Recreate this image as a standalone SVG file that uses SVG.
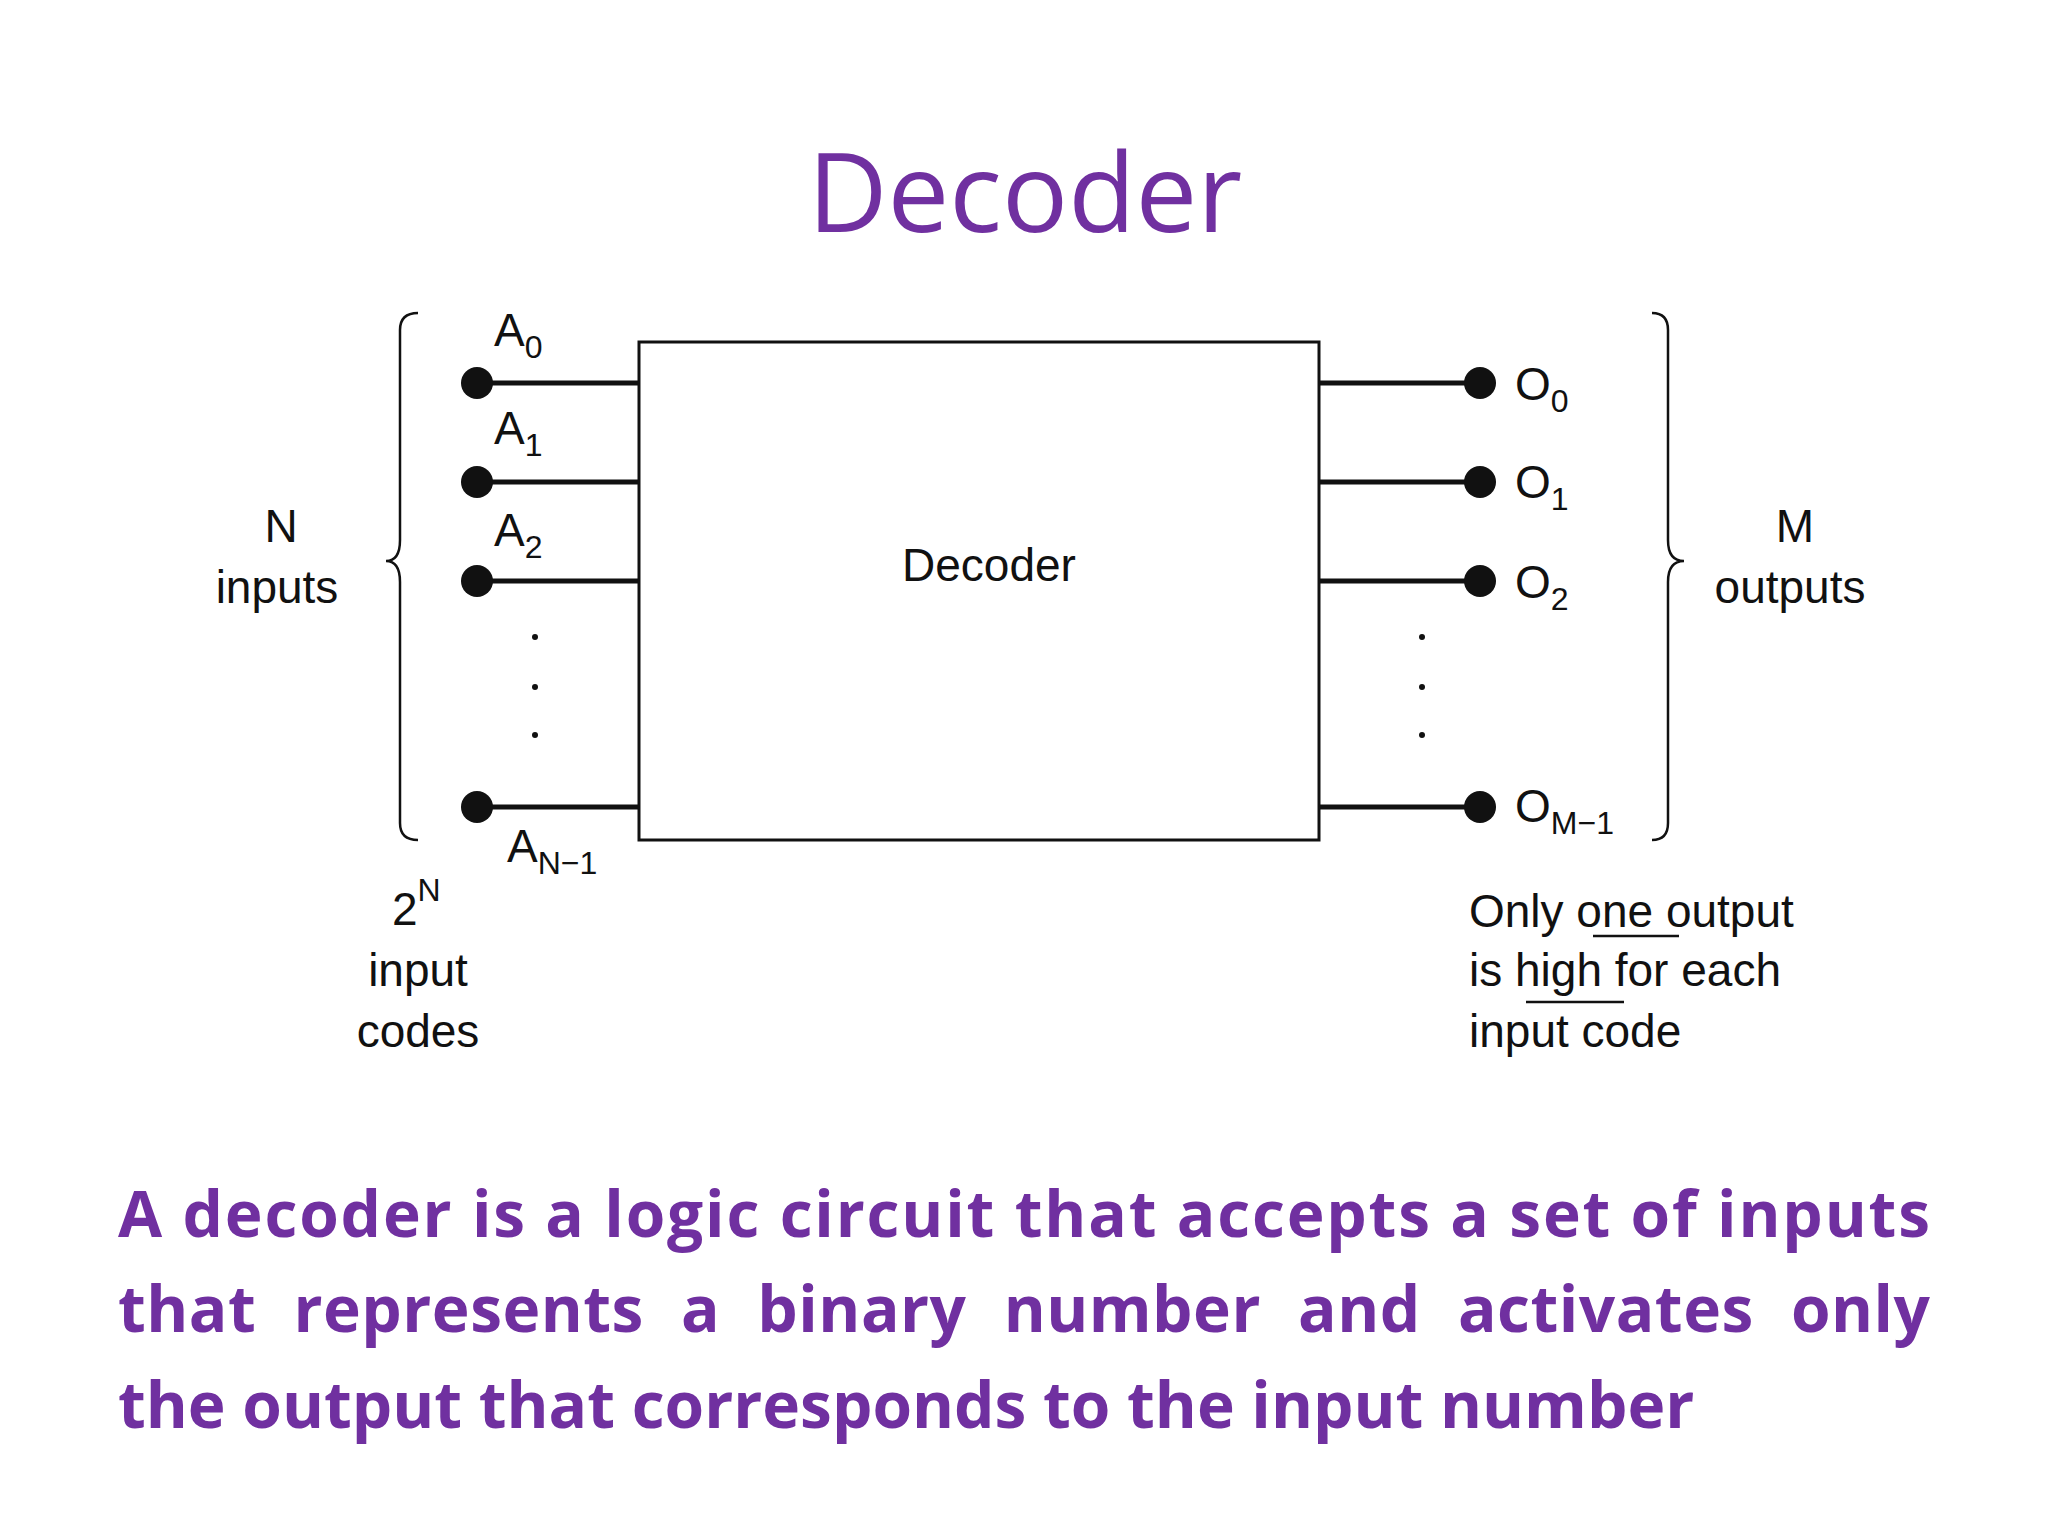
<svg xmlns="http://www.w3.org/2000/svg" width="2048" height="1536" viewBox="0 0 2048 1536">
<style>
.d{font-family:"Liberation Sans",Arial,sans-serif;font-size:46px;fill:#111}
.s{font-size:32px}
.w{stroke:#111;stroke-width:5;fill:none}
.b{stroke:#111;stroke-width:2.5;fill:none}
.p{font-family:"Open Sans","Noto Sans",sans-serif;fill:#7030A0}
</style>
<rect width="2048" height="1536" fill="#fff"/>
<text class="p" x="1025" y="232" font-size="110" text-anchor="middle">Decoder</text>
<g id="decoder"><rect x="639" y="342" width="680" height="498" fill="#fff" stroke="#111" stroke-width="3"/>
<text class="d" x="989" y="581" text-anchor="middle">Decoder</text></g>
<g id="connectors">
<path class="w" d="M477 383H639M477 482H639M477 581H639M477 807H639M1319 383H1480M1319 482H1480M1319 581H1480M1319 807H1480"/>
<g fill="#111">
<circle cx="477" cy="383" r="16"/><circle cx="477" cy="482" r="16"/><circle cx="477" cy="581" r="16"/><circle cx="477" cy="807" r="16"/>
<circle cx="1480" cy="383" r="16"/><circle cx="1480" cy="482" r="16"/><circle cx="1480" cy="581" r="16"/><circle cx="1480" cy="807" r="16"/>
<circle cx="535" cy="637" r="3"/><circle cx="535" cy="687" r="3"/><circle cx="535" cy="735" r="3"/>
<circle cx="1422" cy="637" r="3"/><circle cx="1422" cy="687" r="3"/><circle cx="1422" cy="735" r="3"/>
</g>
<path class="b" d="M418 313Q400 313 400 330V540Q400 561 386 561Q400 561 400 582V823Q400 840 418 840"/>
<path class="b" d="M1652 313Q1668 313 1668 330V540Q1668 561 1684 561Q1668 561 1668 582V823Q1668 840 1652 840"/>
</g>
<g id="labels">
<text class="d" x="494" y="346">A<tspan class="s" dy="12">0</tspan></text>
<text class="d" x="494" y="444">A<tspan class="s" dy="12">1</tspan></text>
<text class="d" x="494" y="546">A<tspan class="s" dy="12">2</tspan></text>
<text class="d" x="507" y="862">A<tspan class="s" dy="12">N−1</tspan></text>
<text class="d" x="1515" y="400">O<tspan class="s" dy="12">0</tspan></text>
<text class="d" x="1515" y="498">O<tspan class="s" dy="12">1</tspan></text>
<text class="d" x="1515" y="598">O<tspan class="s" dy="12">2</tspan></text>
<text class="d" x="1515" y="822">O<tspan class="s" dy="12">M−1</tspan></text>
<text class="d" x="281" y="542" text-anchor="middle">N</text>
<text class="d" x="277" y="603" text-anchor="middle">inputs</text>
<text class="d" x="1795" y="542" text-anchor="middle">M</text>
<text class="d" x="1790" y="603" text-anchor="middle">outputs</text>
<text class="d" x="392" y="925">2<tspan class="s" dy="-24">N</tspan></text>
<text class="d" x="418" y="986" text-anchor="middle">input</text>
<text class="d" x="418" y="1047" text-anchor="middle">codes</text>
<text class="d" x="1469" y="927">Only one output</text>
<text class="d" x="1469" y="986">is high for each</text>
<text class="d" x="1469" y="1047">input code</text>
<path class="b" d="M1593 936H1679M1526 1002H1624"/>
</g>
<g font-weight="bold" font-size="64">
<text class="p" x="118" y="1237" textLength="1812" lengthAdjust="spacing">A decoder is a logic circuit that accepts a set of inputs</text>
<text class="p" x="118" y="1332" textLength="1812" lengthAdjust="spacing" word-spacing="20">that represents a binary number and activates only</text>
<text class="p" x="118" y="1428">the output that corresponds to the input number</text>
</g>
</svg>
